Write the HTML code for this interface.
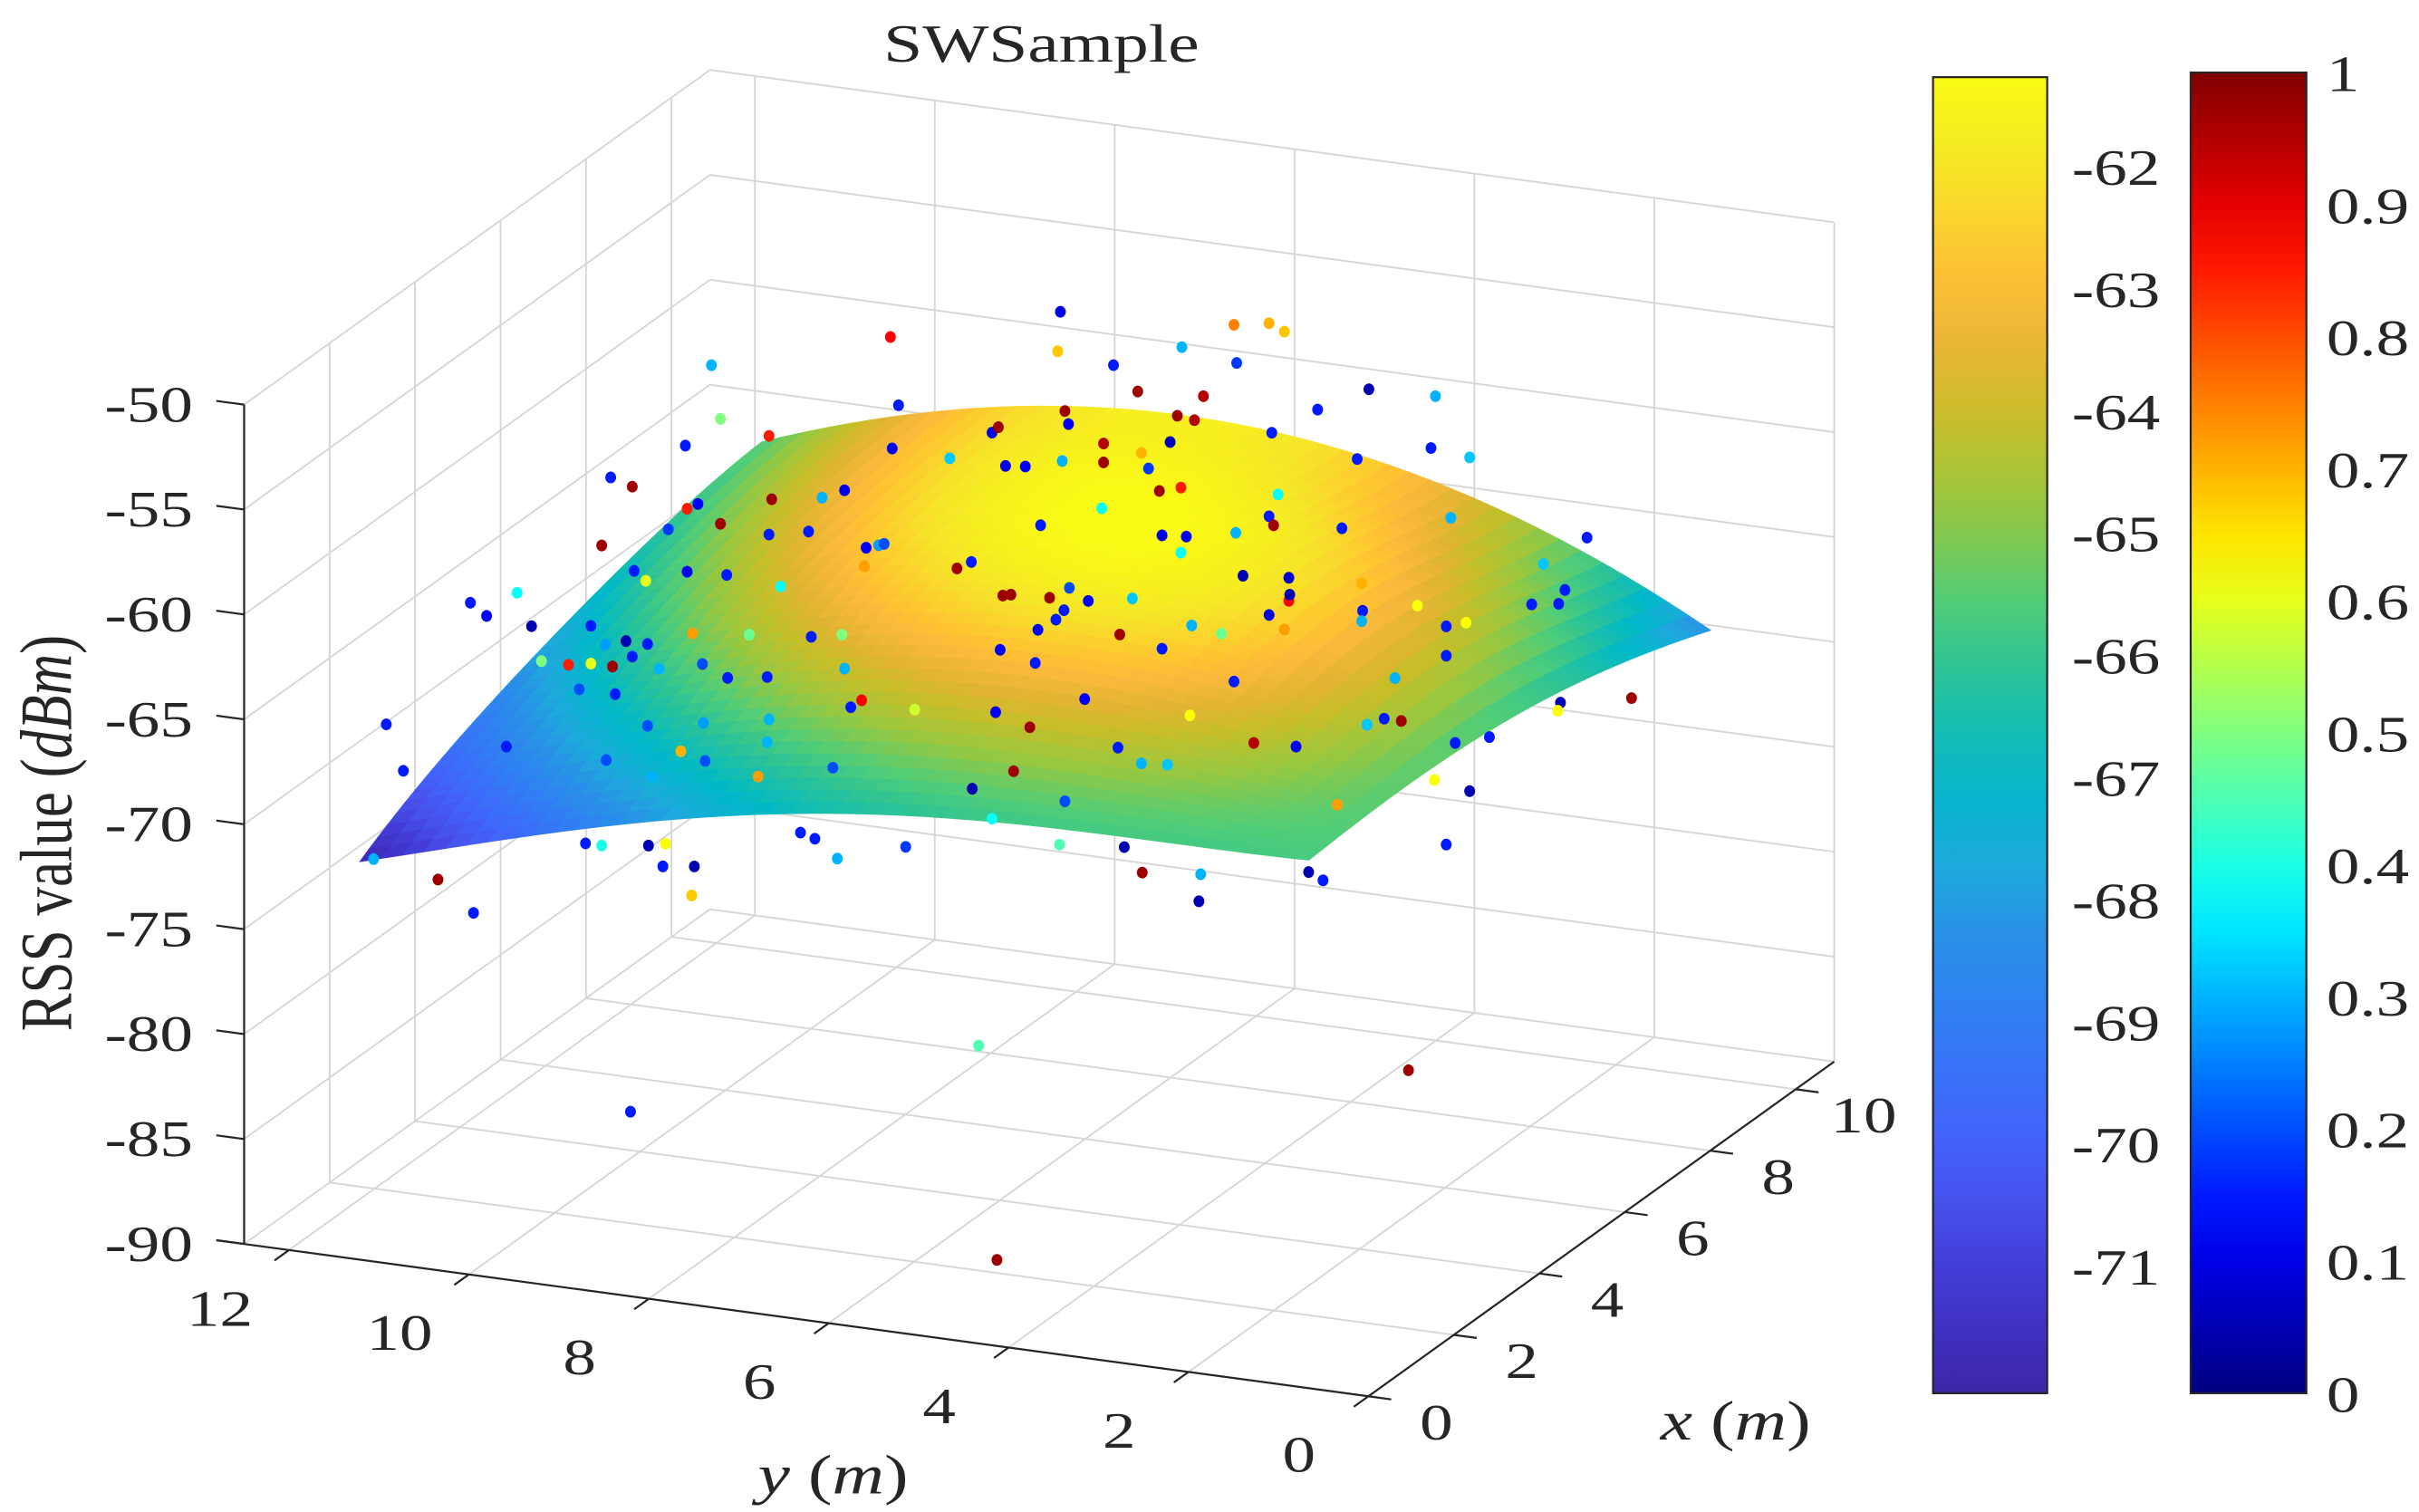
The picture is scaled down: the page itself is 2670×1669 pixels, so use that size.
<!DOCTYPE html>
<html><head><meta charset="utf-8"><style>
html,body{margin:0;padding:0;background:#fff;}
svg{display:block;}
text{font-family:"Liberation Serif","DejaVu Serif",serif;fill:#262626;}
</style></head><body>
<svg id="chart" xmlns="http://www.w3.org/2000/svg" width="2670" height="1669" viewBox="0 0 1568 980" preserveAspectRatio="none">
<defs>
<linearGradient id="parulaGrad" x1="0" y1="1" x2="0" y2="0"></linearGradient>
<linearGradient id="jetGrad" x1="0" y1="1" x2="0" y2="0"></linearGradient>
</defs>
</svg>
<script>
// ---------- data ----------
const xTicks=[0,2,4,6,8,10];
const yTicks=[0,2,4,6,8,10,12];
const zTicks=[-90,-85,-80,-75,-70,-65,-60,-55,-50];
const cb1Ticks=[-71,-70,-69,-68,-67,-66,-65,-64,-63,-62];
const cb2Ticks=[0,0.1,0.2,0.3,0.4,0.5,0.6,0.7,0.8,0.9,1];
const cb2Labels=["0","0.1","0.2","0.3","0.4","0.5","0.6","0.7","0.8","0.9","1"];
// surface grid (fitted RSS surface, dBm)
const surfX=[0.5,2.85,5.2,7.55,9.9];
const surfY=[0.9,3.5,6.1,8.7,11.45];
const surfZ=[
[-65.7,-65.5,-65.84,-66.86,-68.5],
[-65.8,-63.75,-62.32,-62.76,-63.78],
[-66.5,-63.67,-61.6,-61.32,-61.76],
[-68.6,-65.64,-63.5,-62.53,-62.38],
[-71.9,-69.4,-67.68,-66.38,-65.66]];
// scatter samples
const ptX=[5,5,5,5,5,5,5,5,5,5,5,5,5,5,5,5,5,5,5,5,5,5,5,5,5,5,5,5,5,5,5,5,5,5,5,5,5,5,5,5,5,5,5,5,5,5,5,5,5,5,5,5,5,5,5,5,5,5,5,5,5,5,5,5,5,5,5,5,5,6,5,5,5,5,5,5,5,5,5,5,5,5,5,3,5,5,5,5,5,5,5,5,5,5,5,5,5,5,5,5,5,5,5,5,5,5,5,5,5,5,5,5,5,5,5,5,5,5,5,5,5,5,5,5,5,5,5,5,5,5,5,5,5,5,5,5,5,5,5,5,5,5,5,5,5,5,5,7,2,2,5,5,5,5,5,5,5,5,5,5,5,5,5,5,5,5,5,5,5,5,5,5,5,5,5,5,5,5,5,5,5,5,5,5,5,5,5,5,5,5,5,5,5,2,3,4,5,5,5,0];
const ptY=[5.80,7.69,3.87,3.48,3.31,5.83,9.68,5.21,4.45,3.84,2.37,1.63,2.94,9.58,7.60,5.71,4.94,4.50,4.21,9.04,9.97,7.67,6.56,6.49,5.75,4.31,7.03,5.78,5.32,4.90,4.58,3.45,10.80,10.56,9.95,9.83,9.01,9.58,10.16,8.45,8.20,9.04,8.60,6.41,6.19,5.32,4.82,4.70,4.46,5.34,3.38,2.50,1.68,1.25,10.90,7.96,7.82,7.76,6.95,6.79,6.02,4.67,4.40,4.46,3.85,3.48,3.43,2.67,1.46,0.42,0.43,0.19,7.98,10.54,9.95,10.41,9.51,8.91,3.77,3.26,2.45,1.83,0.56,11.41,11.84,12.18,11.68,6.44,6.35,5.92,5.70,5.76,5.49,5.00,5.14,6.05,5.85,3.26,3.25,3.48,2.44,2.45,1.51,1.29,0.26,11.02,10.86,9.89,10.63,10.39,10.56,9.26,8.57,8.23,4.34,4.01,3.31,1.51,11.57,11.27,11.02,10.78,10.26,9.78,9.50,6.47,6.08,4.67,3.87,2.08,11.15,10.75,9.06,8.20,8.13,8.01,7.42,6.52,5.53,4.36,2.39,2.20,2.01,1.41,1.03,0.24,0.27,0.40,11.87,11.68,11.96,10.39,9.77,10.02,9.06,9.04,6.14,5.16,4.90,3.65,3.18,10.85,10.34,9.75,9.16,8.33,6.32,4.61,6.78,6.56,5.75,1.64,1.25,2.72,5.09,11.08,10.90,10.38,10.19,10.22,9.87,9.90,8.69,8.53,8.28,7.52,5.81,1.51,4.89,4.24,3.04,2.88,4.26,12.01,11.77,11.85,6.71,1.93,10.58,4.13];
const ptZ=[-49.0,-51.3,-48.5,-48.2,-48.5,-50.9,-53.8,-51.2,-49.9,-50.3,-50.7,-50.6,-52.0,-56.3,-54.5,-54.3,-52.3,-53.2,-52.1,-56.8,-57.8,-56.6,-55.2,-54.9,-53.7,-53.3,-56.7,-56.1,-55.0,-55.2,-54.5,-53.4,-59.8,-60.1,-60.8,-60.5,-59.8,-61.3,-61.9,-59.4,-58.9,-61.5,-61.1,-56.7,-56.6,-55.9,-55.9,-56.9,-56.6,-58.1,-56.3,-54.1,-53.1,-53.3,-63.1,-61.5,-61.3,-61.2,-61.9,-61.5,-59.3,-59.0,-58.9,-59.7,-58.4,-57.4,-57.8,-57.5,-56.3,-58.1,-57.9,-59.0,-62.4,-64.1,-63.8,-64.5,-63.7,-63.9,-60.4,-60.2,-60.0,-60.7,-59.9,-63.2,-65.9,-67.2,-67.4,-62.9,-62.8,-62.7,-62.1,-63.2,-62.6,-62.2,-64.0,-64.3,-63.7,-61.3,-61.0,-62.1,-61.3,-61.8,-61.5,-61.2,-59.7,-67.0,-67.8,-66.7,-67.5,-67.5,-68.2,-66.4,-66.1,-65.8,-63.1,-63.3,-62.7,-62.9,-69.0,-69.0,-68.8,-68.8,-68.6,-68.1,-68.6,-65.5,-65.9,-64.4,-65.5,-64.3,-70.1,-70.1,-68.3,-67.4,-69.2,-68.8,-68.9,-68.5,-67.3,-67.4,-66.7,-66.3,-66.3,-67.0,-66.5,-64.4,-64.8,-67.2,-67.8,-69.9,-73.3,-71.4,-70.9,-72.4,-71.4,-70.3,-69.0,-69.4,-70.0,-68.3,-68.2,-73.3,-73.8,-72.7,-73.1,-72.2,-71.2,-69.9,-72.3,-73.6,-72.3,-68.9,-69.2,-70.7,-74.1,-77.4,-77.4,-77.1,-76.9,-78.0,-77.8,-79.2,-75.5,-75.7,-76.5,-75.5,-74.4,-71.9,-75.2,-74.9,-74.1,-74.4,-76.2,-74.3,-76.6,-79.7,-84.5,-82.9,-89.9,-85.9];
const ptV=[.1,.88,.75,.7,.68,.68,.3,.15,.3,.18,.05,.3,.15,.5,.15,.12,.97,.97,.95,.85,.15,.12,.1,.97,.97,.95,.32,.3,.95,.7,.05,.15,.15,.97,.85,.12,.97,.97,.18,.3,.1,.15,.15,.1,.12,.97,.18,.97,.85,.38,.38,.15,.15,.32,.97,.12,.28,.2,.97,.15,.15,.1,.12,.38,.3,.15,.97,.15,.3,.15,.32,.15,.72,.15,.12,.6,.15,.38,.05,.08,.7,.62,.15,.15,.38,.12,.05,.97,.97,.97,.2,.15,.12,.32,.97,.12,.15,.88,.05,.1,.15,.3,.15,.62,.15,.15,.28,.72,.05,.15,.15,.48,.15,.5,.3,.48,.72,.15,.5,.85,.6,.97,.3,.2,.15,.12,.15,.15,.15,.3,.2,.15,.15,.3,.15,.88,.58,.12,.12,.62,.32,.15,.97,.15,.15,.05,.62,.97,.15,.15,.15,.2,.28,.7,.3,.3,.97,.15,.3,.95,.12,.2,.3,.2,.72,.2,.97,.32,.05,.38,.2,.62,.05,.72,.05,.15,.4,.05,.62,.15,.05,.68,.15,.15,.3,.18,.45,.15,.97,.3,.05,.15,.05,.3,.97,.15,.45,.97,.15,.97];

// ---------- axes ----------
const XMAX=10.9, YMAX=12.5, ZMIN=-90, ZMAX=-50;
const CMIN=-72.04, CMAX=-61.27;
function P(x,y,z){return [887+27.7*x-58.3*y, 905-19.9*x-7.9*y-13.6*(z-ZMIN)];}
const NS="http://www.w3.org/2000/svg";
const svg=document.getElementById('chart');
function mk(tag,attrs,parent){const e=document.createElementNS(NS,tag);for(const k in attrs)e.setAttribute(k,attrs[k]);(parent||svg).appendChild(e);return e;}
function lerpStops(stops,t){t=Math.max(0,Math.min(1,t));for(let i=1;i<stops.length;i++){if(t<=stops[i][0]){const a=stops[i-1],b=stops[i],f=(t-a[0])/(b[0]-a[0]||1);return `rgb(${Math.round(a[1]+(b[1]-a[1])*f)},${Math.round(a[2]+(b[2]-a[2])*f)},${Math.round(a[3]+(b[3]-a[3])*f)})`;}}return 'rgb(250,250,20)';}
const PARULA=[[0,62,38,168],[0.08,65,55,210],[0.14,72,80,235],[0.20,65,100,250],[0.28,50,125,245],[0.35,40,145,230],[0.40,30,170,220],[0.47,0,185,200],[0.55,45,195,150],[0.60,80,205,120],[0.67,150,200,65],[0.74,200,190,40],[0.78,225,180,50],[0.83,250,185,60],[0.86,255,195,50],[0.93,245,230,40],[1,250,250,20]];
function parula(z){return lerpStops(PARULA,(z-CMIN)/(CMAX-CMIN));}
function jet(v){const c=t=>Math.round(255*Math.max(0,Math.min(1,t)));return `rgb(${c(1.5-Math.abs(4*v-3))},${c(1.5-Math.abs(4*v-2))},${c(1.5-Math.abs(4*v-1))})`;}

const pg=document.getElementById('parulaGrad');
for(let i=0;i<=20;i++){const t=i/20;mk('stop',{offset:t,'stop-color':lerpStops(PARULA,t)},pg);}
const jg=document.getElementById('jetGrad');
for(let i=0;i<=20;i++){const t=i/20;mk('stop',{offset:t,'stop-color':jet(t)},jg);}

// ---------- grid ----------
const grid=mk('g',{stroke:'#d6d6d6','stroke-width':1.1,fill:'none'});


function gl(a,b,name){const p=P(...a),q=P(...b);const l=mk('line',{x1:p[0],y1:p[1],x2:q[0],y2:q[1]},grid);

}
xTicks.forEach(x=>{gl([x,0,ZMIN],[x,YMAX,ZMIN],'floor-grid-x');gl([x,YMAX,ZMIN],[x,YMAX,ZMAX],'wall-grid-x');});
yTicks.forEach(y=>{gl([0,y,ZMIN],[XMAX,y,ZMIN],'floor-grid-y');gl([XMAX,y,ZMIN],[XMAX,y,ZMAX],'wall-grid-y');});
zTicks.forEach(z=>{gl([0,YMAX,z],[XMAX,YMAX,z],'left-wall-grid-z');gl([XMAX,0,z],[XMAX,YMAX,z],'back-wall-grid-z');});

// ---------- surface ----------
function lag(nodes,t,k){let r=1;for(let m=0;m<nodes.length;m++){if(m!==k)r*=(t-nodes[m])/(nodes[k]-nodes[m]);}return r;}
function surf(x,y){let s=0;for(let j=0;j<surfY.length;j++){const ly=lag(surfY,y,j);for(let i=0;i<surfX.length;i++){s+=ly*lag(surfX,x,i)*surfZ[j][i];}}return s;}
const N=44, quads=[];
const x0=surfX[0],x1=surfX[surfX.length-1],y0=surfY[0],y1=surfY[surfY.length-1];
const Z=[];
for(let j=0;j<=N;j++){Z.push([]);for(let i=0;i<=N;i++){Z[j].push(surf(x0+(x1-x0)*i/N,y0+(y1-y0)*j/N));}}
for(let j=0;j<N;j++)for(let i=0;i<N;i++){
 const xa=x0+(x1-x0)*i/N,xb=x0+(x1-x0)*(i+1)/N,ya=y0+(y1-y0)*j/N,yb=y0+(y1-y0)*(j+1)/N;
 const zs=[Z[j][i],Z[j][i+1],Z[j+1][i+1],Z[j+1][i]];
 const pts=[P(xa,ya,zs[0]),P(xb,ya,zs[1]),P(xb,yb,zs[2]),P(xa,yb,zs[3])];
 quads.push({d:19.9*(xa+xb)/2+7.9*(ya+yb)/2,pts,z:(zs[0]+zs[1]+zs[2]+zs[3])/4});
}
quads.sort((a,b)=>b.d-a.d);
const sg=mk('g',{});


quads.forEach(q=>{const c=parula(q.z);const pp=mk('polygon',{points:q.pts.map(p=>p[0].toFixed(2)+','+p[1].toFixed(2)).join(' '),fill:c,stroke:c,'stroke-width':0.6},sg);

});

// ---------- scatter ----------
const dg=mk('g',{});


for(let k=0;k<ptX.length;k++){const p=P(ptX[k],ptY[k],ptZ[k]);const c=mk('ellipse',{cx:p[0].toFixed(2),cy:p[1].toFixed(2),rx:3.5,ry:3.8,fill:jet(ptV[k])},dg);

}

// ---------- axes lines & ticks ----------
const ag=mk('g',{stroke:'#262626','stroke-width':1.3,fill:'none'});


function al(p,q,name){const l=mk('line',{x1:p[0],y1:p[1],x2:q[0],y2:q[1]},ag);

}
al(P(0,YMAX,ZMIN),P(0,YMAX,ZMAX),'z-axis-line');
al(P(0,0,ZMIN),P(XMAX,0,ZMIN),'x-axis-line');
al(P(0,0,ZMIN),[P(0,YMAX,ZMIN)[0]-18,P(0,YMAX,ZMIN)[1]-2.4],'y-axis-line');
const SX=1.3;
function txt(x,y,s,anchor,size,name,rot){const t=mk('text',{x:0,y:0,'text-anchor':anchor,'font-size':size,transform:`translate(${x},${y}) scale(${SX},1)`+(rot?` rotate(${rot})`:'')});t.textContent=s;

return t;}
zTicks.forEach(z=>{const p=P(0,YMAX,z);al(p,[p[0]-18,p[1]-2.4],'z-tick');txt(125,p[1]+11,String(z),'end',33,'z-tick-label');});
xTicks.forEach(x=>{const p=P(x,0,ZMIN);al(p,[p[0]+14.8,p[1]+2],'x-tick');txt(p[0]+44,p[1]+28,String(x),'middle',33,'x-tick-label');});
yTicks.forEach(y=>{const p=P(0,y,ZMIN);al(p,[p[0]-9.5,p[1]+6.8],'y-tick');txt(p[0]-45,p[1]+49,String(y),'middle',33,'y-tick-label');});

// ---------- titles ----------
txt(675,40,'SWSample','middle',35,'chart-title');
const yl=txt(540,968,'','middle',36,'y-axis-title');
yl.innerHTML='<tspan font-style="italic">y</tspan> (<tspan font-style="italic">m</tspan>)';
const xl=txt(1125,933,'','middle',36,'x-axis-title');
xl.innerHTML='<tspan font-style="italic">x</tspan> (<tspan font-style="italic">m</tspan>)';
const zl=txt(46,540,'','middle',37,'z-axis-title',-90);
zl.innerHTML='RSS value (<tspan font-style="italic">dBm</tspan>)';

// ---------- colorbars ----------
const cb1={x:1253,w:74,top:50,bot:903,min:CMIN,max:CMAX};
const r1=mk('rect',{x:cb1.x,y:cb1.top,width:cb1.w,height:cb1.bot-cb1.top,fill:'url(#parulaGrad)',stroke:'#262626','stroke-width':1.3});


const cb1y=v=>cb1.bot-(v-cb1.min)/(cb1.max-cb1.min)*(cb1.bot-cb1.top);
cb1Ticks.forEach(v=>{const y=cb1y(v);al([cb1.x+cb1.w-10,y],[cb1.x+cb1.w,y],'colorbar-tick');txt(1343,y+12,String(v),'start',33,'rss-colorbar-label');});
const cb2={x:1420,w:75,top:47,bot:903,min:0,max:1};
const r2=mk('rect',{x:cb2.x,y:cb2.top,width:cb2.w,height:cb2.bot-cb2.top,fill:'url(#jetGrad)',stroke:'#262626','stroke-width':1.3});


const cb2y=v=>cb2.bot-(v-cb2.min)/(cb2.max-cb2.min)*(cb2.bot-cb2.top);
cb2Ticks.forEach((v,i)=>{const y=cb2y(v);if(i>0&&i<cb2Ticks.length-1)al([cb2.x+cb2.w-10,y],[cb2.x+cb2.w,y],'colorbar-tick');txt(1508,y+12,cb2Labels[i],'start',33,'value-colorbar-label');});
</script>
</body></html>
